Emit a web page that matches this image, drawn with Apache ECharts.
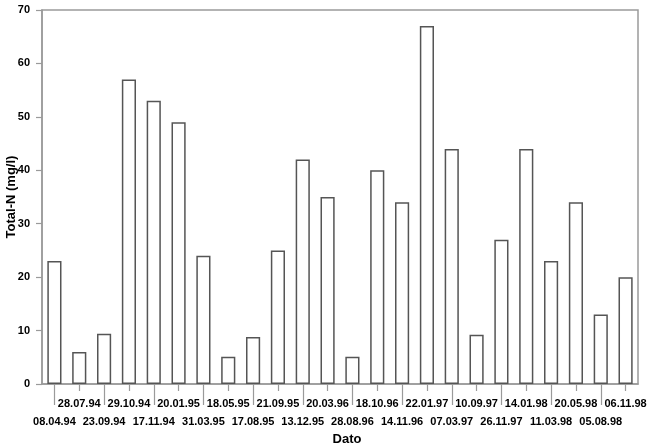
<!DOCTYPE html>
<html>
<head>
<meta charset="utf-8">
<script src="https://cdn.jsdelivr.net/npm/echarts@6/dist/echarts.min.js"></script>
<style>
html,body{margin:0;padding:0;background:#fff;}
#chart{width:650px;height:448px;}
</style>
</head>
<body>
<div id="chart"></div>
<script>
var categories = ['08.04.94','28.07.94','23.09.94','29.10.94','17.11.94','20.01.95','31.03.95','18.05.95','17.08.95','21.09.95','13.12.95','20.03.96','28.08.96','18.10.96','14.11.96','22.01.97','07.03.97','10.09.97','26.11.97','14.01.98','11.03.98','20.05.98','05.08.98','06.11.98'];
var totalN = [23, 6, 9.4, 57, 53, 49, 24, 5.1, 8.8, 25, 42, 35, 5.1, 40, 34, 67, 44, 9.2, 27, 44, 23, 34, 13, 20];
var yTicks = [0, 10, 20, 30, 40, 50, 60, 70];

var axisGray = '#9a9a9a';
var fontFam = 'Liberation Sans, Arial, sans-serif';

var chart = echarts.init(document.getElementById('chart'), null, {renderer: 'canvas'});
chart.setOption({
  animation: false,
  backgroundColor: '#fff',
  grid: {left: 42, right: 12, top: 10, bottom: 64, containLabel: false, outerBoundsMode: 'none',
    show: true, borderColor: axisGray, borderWidth: 1.5, backgroundColor: 'transparent'},
  xAxis: [
    {
      type: 'category', data: categories, position: 'bottom', boundaryGap: true,
      name: 'Dato', nameLocation: 'middle', nameGap: 49, nameMoveOverlap: false,
      nameTextStyle: {fontFamily: fontFam, fontSize: 13, fontWeight: 'bold', color: '#000', padding: [0, 0, 0, 14]},
      axisLine: {show: true, lineStyle: {color: axisGray, width: 1.5}},
      axisTick: {show: true, alignWithLabel: true, length: 7, lineStyle: {color: axisGray, width: 1.2},
        interval: function (i) { return i % 2 === 1; }},
      axisLabel: {show: true, margin: 14, fontFamily: fontFam, fontSize: 11, fontWeight: 'bold', color: '#000',
        interval: function (i) { return i % 2 === 1; }, hideOverlap: false}
    },
    {
      type: 'category', data: categories, position: 'bottom', offset: 0, boundaryGap: true,
      axisLine: {show: false},
      axisTick: {show: true, alignWithLabel: true, length: 21, lineStyle: {color: axisGray, width: 1.2},
        interval: function (i) { return i % 2 === 0; }},
      axisLabel: {show: true, margin: 32, fontFamily: fontFam, fontSize: 11, fontWeight: 'bold', color: '#000',
        interval: function (i) { return i % 2 === 0; }, hideOverlap: false}
    }
  ],
  yAxis: {
    type: 'value', min: yTicks[0], max: yTicks[yTicks.length - 1], interval: 10,
    name: 'Total-N (mg/l)', nameLocation: 'middle', nameGap: 24, nameRotate: 90, nameMoveOverlap: false,
    nameTextStyle: {fontFamily: fontFam, fontSize: 13, fontWeight: 'bold', color: '#000', padding: [0, 0, 0, 0]},
    axisLine: {show: true, lineStyle: {color: axisGray, width: 1.5}},
    axisTick: {show: true, length: 6, lineStyle: {color: axisGray, width: 1.2}},
    axisLabel: {margin: 12, fontFamily: fontFam, fontSize: 11, fontWeight: 'bold', color: '#000'},
    splitLine: {show: false}
  },
  series: [{
    type: 'bar', data: totalN, xAxisIndex: 0, barCategoryGap: '43%',
    itemStyle: {color: '#fff', borderColor: '#555', borderWidth: 1.5}
  }]
});
</script>
</body>
</html>
